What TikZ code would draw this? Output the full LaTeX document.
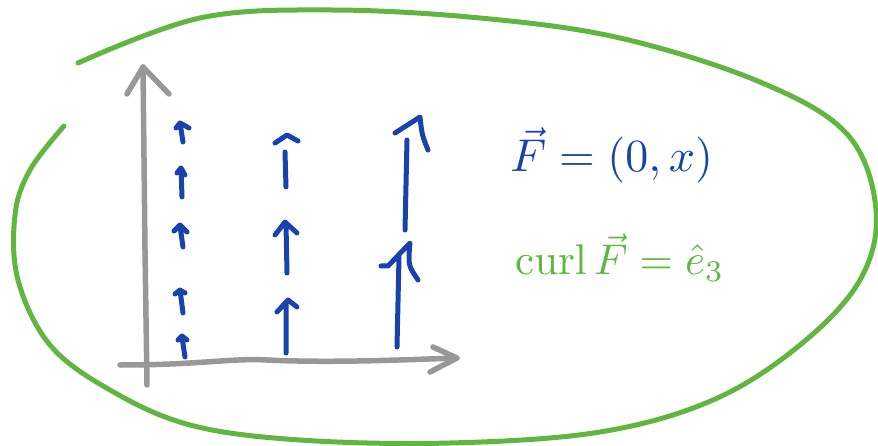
\documentclass[tikz,border=0pt]{standalone}
\usepackage{xcolor}
\usepackage{tikz}
\usetikzlibrary{positioning}
\usepackage{amsmath}

\definecolor{penblue}{RGB}{24,66,172}
\definecolor{pengreen}{RGB}{96,182,64}
\definecolor{pengray}{RGB}{152,152,152}

\tikzset{
  loopline/.style={pengreen, line width=5pt, line cap=round},
  axisline/.style={pengray, line width=5.5pt, line cap=round, line join=round},
  fieldarrow/.style={penblue, line width=5pt, line cap=round, line join=round},
}

\begin{document}
\begin{tikzpicture}[x=1pt, y=-1pt]
                \useasboundingbox (0,0) rectangle (878,446);
                % green region
                \draw[loopline] plot[smooth, tension=0.6] coordinates {(78,63) (200,18) (330,10) (480,18) (620,38) (760,82) (847,134) (876,210) (860,280) (800,345) (713,400) (600,432) (450,443) (300,440) (190,425) (110,390) (50,345) (18,280) (15,215) (30,170) (64,126)};
                % axes
                \draw[axisline] (147,385) -- (145,250) -- (143,67);
                \draw[axisline] (127,94) -- (143,67) -- (169,94);
                \draw[axisline] (120,365) .. controls (200,365) and (230,358) .. (267,360) .. controls (330,363) and (400,360) .. (457,358);
                \draw[axisline] (433,347) -- (457,358) -- (430,372);
                % column 1, short arrows
                \draw[fieldarrow] (183,142) -- (180,123) (176,128) -- (180,123) -- (189,128);
                \draw[fieldarrow] (182,197) -- (181,168) (177,173) -- (181,168) -- (185,175);
                \draw[fieldarrow] (183,247) -- (180,226) (174,231) -- (180,225) -- (187,232);
                \draw[fieldarrow] (183,313) -- (180,290) (175,294) -- (180,290) -- (185,293);
                \draw[fieldarrow] (185,357) -- (182,337) (178,340) -- (182,336) -- (187,340);
                % column 2
                \draw[fieldarrow] (286,187) -- (285,152) (275,143) -- (287,135) -- (298,141);
                \draw[fieldarrow] (287,273) -- (286,224) (275,235) -- (285,222) -- (297,233);
                \draw[fieldarrow] (286,353) -- (286,304) (277,312) -- (288,300) -- (297,307);
                % column 3
                \draw[fieldarrow] (405,230) -- (407,140) (395,133) -- (420,117) .. controls (422,135) .. (428,150);
                \draw[fieldarrow] (397,347) -- (399,257) (381,266) -- (388,266) -- (410,243) .. controls (408,265) .. (418,280);
                % labels
                \node[penblue, anchor=base west, scale=4.6] (field) at (494,172) {$\vec{F} = (0, x)$};
                \node[pengreen, anchor=base west, scale=4.3] (curlF) at (500,275) {$\operatorname{curl}\vec{F} = \hat{e}_3$};
            \end{tikzpicture}
\end{document}
